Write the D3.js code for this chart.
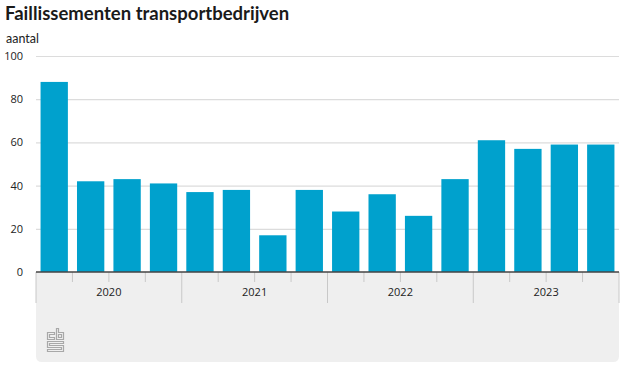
<!DOCTYPE html>
<html><head><meta charset="utf-8">
<script src="https://cdn.jsdelivr.net/npm/d3@7/dist/d3.min.js"></script>
<style>body{margin:0;background:#fff}svg{display:block}</style>
</head><body>
<script>
const title = "Faillissementen transportbedrijven";
const unitLabel = "aantal";
const years = ["2020","2021","2022","2023"];
const quarters = ["2020K1","2020K2","2020K3","2020K4","2021K1","2021K2","2021K3","2021K4",
                  "2022K1","2022K2","2022K3","2022K4","2023K1","2023K2","2023K3","2023K4"];
const values = [88,42,43,41,37,38,17,38,28,36,26,43,61,57,59,59];
const yTicks = [0,20,40,60,80,100];

const W=626,H=369;
const m={left:36,right:619,top:56,bottom:272};
const svg=d3.select("body").append("svg").attr("width",W).attr("height",H);
const font="'Open Sans', sans-serif";

svg.append("text").attr("x",5).attr("y",20).text(title)
  .attr("font-family","Lato, sans-serif").attr("font-weight",700).attr("font-size",18.5).attr("fill","#1a1a1a");
svg.append("text").attr("x",6).attr("y",43).text(unitLabel)
  .attr("font-family","Lato, sans-serif").attr("font-size",12.5).attr("fill","#222");

const x=d3.scaleBand().domain(quarters).range([m.left,m.right]).paddingInner(0.25).paddingOuter(0.125);
const y=d3.scaleLinear().domain([0,100]).range([m.bottom,m.top]);

// x panel
const panelTop=m.bottom, panelBottom=362, r=6;
svg.append("path").attr("fill","#efefef")
  .attr("d",`M${m.left},${panelTop}H${m.right}V${panelBottom-r}Q${m.right},${panelBottom} ${m.right-r},${panelBottom}H${m.left+r}Q${m.left},${panelBottom} ${m.left},${panelBottom-r}Z`);

// gridlines
const yAxis=d3.axisLeft(y).tickValues(yTicks).tickSize(-(m.right-m.left)).tickPadding(12);
const gy=svg.append("g").attr("transform",`translate(${m.left},0)`).call(yAxis);
gy.select(".domain").remove();
gy.selectAll(".tick line").attr("stroke","#dcdcdc").attr("stroke-width",1.2);
gy.selectAll(".tick text").attr("font-family",font).attr("font-size",11).attr("fill","#222").attr("x",-13);
gy.selectAll(".tick").filter(d=>d===0).select("line").remove();

// bars
svg.append("g").selectAll("rect").data(values).join("rect")
  .attr("x",(d,i)=>x(quarters[i])).attr("width",x.bandwidth())
  .attr("y",d=>y(d)).attr("height",d=>y(0)-y(d)).attr("fill","#00a1cd");

// x ticks
const step=x.step();
const g=svg.append("g");
for(let i=0;i<=quarters.length;i++){
  const xx=m.left+i*step;
  const major=i%4===0;
  g.append("line").attr("x1",xx).attr("x2",xx).attr("y1",panelTop).attr("y2",major?303:282)
    .attr("stroke","#c8c8c8").attr("stroke-width",1);
}
years.forEach((yr,k)=>{
  svg.append("text").attr("x",m.left+k*4*step+step*2).attr("y",296).attr("text-anchor","middle")
    .text(yr).attr("font-family",font).attr("font-size",11).attr("fill","#222");
});
// baseline
svg.append("line").attr("x1",m.left).attr("x2",m.right).attr("y1",y(0)).attr("y2",y(0))
  .attr("stroke","#444").attr("stroke-width",1.5);

// cbs logo (simplified)
const lg=svg.append("g").attr("transform","translate(47,328)").attr("fill","none").attr("stroke","#a8a8a8").attr("stroke-width",1.2);
lg.append("path").attr("d","M0.5,4.5H7.5V6.5H2.5V9.5H7.5V11.5H0.5Z");
lg.append("path").attr("d","M9.5,0.5H11.5V4.5H16.5V11.5H9.5Z M11.5,6.5V9.5H14.5V6.5Z");
lg.append("path").attr("d","M0.5,13.5H16.5V15.5H2.5V17.5H16.5V23.5H0.5V21.5H14.5V19.5H0.5Z");
</script>
</body></html>
